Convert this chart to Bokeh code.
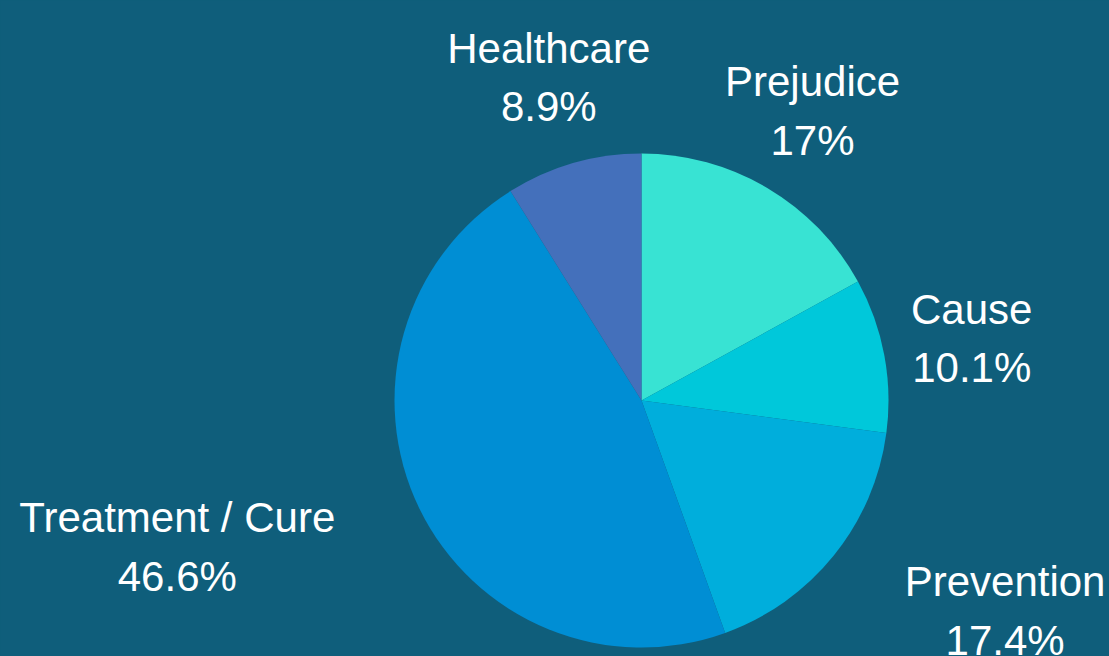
import math
from bokeh.plotting import figure
from bokeh.models import Range1d, ColumnDataSource
from bokeh.embed import file_html
from bokeh.resources import INLINE
from bokeh.core.properties import value

# ---- data ----
categories = ["Prejudice", "Cause", "Prevention", "Treatment / Cure", "Healthcare"]
shares = [17.0, 10.1, 17.4, 46.6, 8.9]
share_labels = ["17%", "10.1%", "17.4%", "46.6%", "8.9%"]
colors = ["#38e3d3", "#00c8da", "#00aedc", "#008ed4", "#4470bb"]

# ---- style / layout ----
BG = "#0f5e7b"
W, H = 1109, 656
CX, CY = 641, 256          # pie centre in data units (1 unit = 1 px)
R = 247                    # pie radius
R_LAB = 336                # label anchor radius
lab_dx = [0, 0, 102, -162, 0]     # per-label horizontal nudge (px)
NAME_UP = 29.5             # first line position above anchor (px)
PCT_DOWN = 29.0            # second line position below anchor (px)
FONT = "Liberation Sans"
FSIZE = "42px"

total = sum(shares)
starts, ends, mids = [], [], []
acc = 0.0
for s in shares:
    a0 = acc / total * 2 * math.pi
    acc += s
    a1 = acc / total * 2 * math.pi
    starts.append(math.pi / 2 - a0)
    ends.append(math.pi / 2 - a1)
    mids.append((a0 + a1) / 2)

ax = [CX + R_LAB * math.sin(m) + dx for m, dx in zip(mids, lab_dx)]
ay = [CY + R_LAB * math.cos(m) for m in mids]

src = ColumnDataSource(dict(
    cat=categories, pct=share_labels, color=colors,
    start=starts, end=ends,
    name_y=[y + NAME_UP for y in ay], pct_y=[y - PCT_DOWN for y in ay], lx=ax,
))

p = figure(width=W, height=H, x_range=Range1d(0, W), y_range=Range1d(0, H),
           output_backend="svg", toolbar_location=None, min_border=0,
           background_fill_color=BG, border_fill_color=BG)
p.axis.visible = False
p.grid.visible = False
p.outline_line_color = None

p.wedge(x=CX, y=CY, radius=R, start_angle="start", end_angle="end",
        direction="clock", fill_color="color", line_color=None, source=src)

p.text(x="lx", y="name_y", text="cat", source=src, text_color="white",
       text_font=value(FONT), text_font_size=FSIZE, text_align="center",
       text_baseline="alphabetic")
p.text(x="lx", y="pct_y", text="pct", source=src, text_color="white",
       text_font=value(FONT), text_font_size=FSIZE, text_align="center",
       text_baseline="alphabetic")

html = file_html(p, INLINE)
html = html.replace("<head>", "<head><style>html,body{margin:0;background:%s;overflow:hidden;}</style>" % BG, 1)
open("out.html", "w").write(html)
